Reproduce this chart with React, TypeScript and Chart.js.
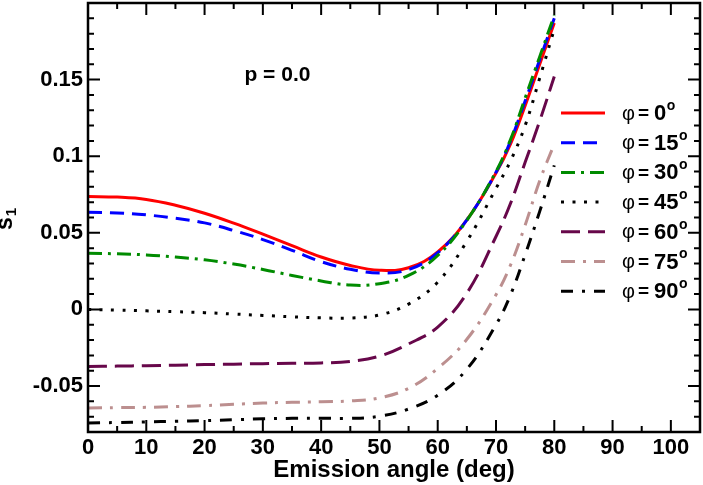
import { useEffect, useRef } from 'react';
import { Chart, registerables, type ChartConfiguration, type Plugin } from 'chart.js';

Chart.register(...registerables);

// Emission angle (deg), sampled a bit denser near the steep rise
const angles = [0, 5, 10, 15, 20, 25, 30, 35, 40, 45, 50, 55, 60, 65, 70, 72.5, 75, 77.5, 80];

const phi0 = [0.0737, 0.0733, 0.0718, 0.068, 0.0628, 0.0563, 0.0491, 0.0416, 0.0342, 0.0287, 0.0256, 0.0272, 0.0375, 0.0585, 0.089, 0.108, 0.133, 0.16, 0.187];
const phi15 = [0.0634, 0.063, 0.0617, 0.0595, 0.0565, 0.0515, 0.0456, 0.0386, 0.0312, 0.0262, 0.0238, 0.026, 0.037, 0.0585, 0.0895, 0.11, 0.136, 0.163, 0.19];
const phi30 = [0.0367, 0.0363, 0.0356, 0.0342, 0.0324, 0.0296, 0.0261, 0.0222, 0.0186, 0.0159, 0.0168, 0.0222, 0.0352, 0.0582, 0.09, 0.111, 0.138, 0.165, 0.192];
const phi45 = [0.0, -0.0004, -0.0009, -0.0015, -0.0021, -0.003, -0.0039, -0.0048, -0.0055, -0.0056, -0.0036, 0.0035, 0.0178, 0.0445, 0.079, 0.097, 0.12, 0.151, 0.183];
const phi60 = [-0.0372, -0.037, -0.0367, -0.0364, -0.036, -0.0357, -0.0354, -0.0352, -0.0349, -0.0339, -0.0305, -0.0225, -0.0115, 0.0106, 0.0476, 0.0693, 0.096, 0.123, 0.152];
const phi75 = [-0.0643, -0.0641, -0.0639, -0.0634, -0.0628, -0.0619, -0.0611, -0.0606, -0.0603, -0.0597, -0.0577, -0.0515, -0.0385, -0.0195, 0.0096, 0.029, 0.055, 0.084, 0.108];
const phi90 = [-0.0741, -0.0738, -0.0734, -0.073, -0.0726, -0.072, -0.0714, -0.0711, -0.071, -0.0711, -0.0697, -0.065, -0.056, -0.039, -0.01, 0.0096, 0.0357, 0.064, 0.094];

const seriesLabels = ['0', '15', '30', '45', '60', '75', '90'];
const seriesValues = [phi0, phi15, phi30, phi45, phi60, phi75, phi90];
const seriesColors = ['#ff0000', '#0000ff', '#008b00', '#000000', '#67074a', '#bc8f8f', '#000000'];
const seriesDashes: number[][] = [[], [14, 8], [14, 6, 3, 6], [3, 8.5], [19, 8], [14, 8, 3, 8], [12, 9, 3, 9]];

const X_MIN = 0, X_MAX = 105, X_MAJOR = 10, X_MINOR = 5;
const Y_MIN = -0.08, Y_MAX = 0.2, Y_MAJOR = 0.05, Y_MINOR = 0.01;

const FONT = '"Liberation Sans", Arial, Helvetica, sans-serif';

/** Inward ticks on all four sides plus the frame, like xmgrace draws them. */
const framePlugin: Plugin<'line'> = {
  id: 'frame',
  afterDatasetsDraw(chart) {
    const { ctx, chartArea: { left, right, top, bottom }, scales: { x, y } } = chart;
    ctx.save();
    ctx.strokeStyle = '#000';
    ctx.lineWidth = 2;
    ctx.beginPath();
    for (let i = 0; X_MIN + i * X_MINOR <= X_MAX + 1e-9; i++) {
      const v = X_MIN + i * X_MINOR;
      const px = x.getPixelForValue(v);
      const len = Math.abs(v / X_MAJOR - Math.round(v / X_MAJOR)) < 1e-6 ? 12 : 6;
      ctx.moveTo(px, bottom); ctx.lineTo(px, bottom - len);
      ctx.moveTo(px, top); ctx.lineTo(px, top + len);
    }
    for (let i = 0; Y_MIN + i * Y_MINOR <= Y_MAX + 1e-9; i++) {
      const v = Y_MIN + i * Y_MINOR;
      const py = y.getPixelForValue(v);
      const len = Math.abs(v / Y_MAJOR - Math.round(v / Y_MAJOR)) < 1e-6 ? 12 : 6;
      ctx.moveTo(left, py); ctx.lineTo(left + len, py);
      ctx.moveTo(right, py); ctx.lineTo(right - len, py);
    }
    ctx.stroke();
    ctx.lineWidth = 2.5;
    ctx.strokeRect(left, top, right - left, bottom - top);
    ctx.restore();
  },
};

/** Legend inside the plot, y-axis title with subscript, and the p annotation. */
const textPlugin: Plugin<'line'> = {
  id: 'texts',
  afterDraw(chart) {
    const { ctx, chartArea: { right, top }, scales: { x, y } } = chart;
    ctx.save();
    ctx.fillStyle = '#000';

    // annotation
    ctx.font = `bold 21px ${FONT}`;
    ctx.textAlign = 'center';
    ctx.textBaseline = 'middle';
    ctx.fillText('p = 0.0', x.getPixelForValue(32.5), y.getPixelForValue(0.153));

    // y title: s with subscript 1, rotated
    ctx.save();
    ctx.translate(12, 223);
    ctx.rotate(-Math.PI / 2);
    ctx.textAlign = 'left';
    ctx.textBaseline = 'alphabetic';
    ctx.font = `bold 23px ${FONT}`;
    const sw = ctx.measureText('s').width;
    ctx.fillText('s', -7, 0);
    ctx.font = `bold 15px ${FONT}`;
    ctx.fillText('1', -7 + sw + 1, 4);
    ctx.restore();

    // legend
    const lx0 = right - 139, lx1 = right - 95, tx = right - 78;
    chart.data.datasets.forEach((ds, i) => {
      const ly = top + 110 + i * 29.7;
      ctx.save();
      ctx.strokeStyle = ds.borderColor as string;
      ctx.lineWidth = 3;
      ctx.setLineDash((ds as any).borderDash ?? []);
      ctx.beginPath();
      ctx.moveTo(lx0, ly);
      ctx.lineTo(lx1, ly);
      ctx.stroke();
      ctx.restore();

      ctx.textAlign = 'left';
      ctx.textBaseline = 'middle';
      ctx.font = `20px ${FONT}`;
      ctx.fillText('\u03C6', tx, ly + 1);
      ctx.font = `bold 19px ${FONT}`;
      ctx.fillText('=', tx + 16, ly + 1);
      ctx.font = `bold 22px ${FONT}`;
      const vx = tx + 32;
      ctx.fillText(seriesLabels[i], vx, ly + 1);
      const cx = vx + ctx.measureText(seriesLabels[i]).width;
      ctx.font = `bold 14px ${FONT}`;
      ctx.fillText('o', cx + 0.5, ly - 7);
    });
    ctx.restore();
  },
};

export default function App() {
  const canvasRef = useRef<HTMLCanvasElement>(null);
  const chartRef = useRef<Chart | null>(null);

  useEffect(() => {
    document.body.style.margin = '0';
    if (!canvasRef.current) return;

    const datasets = seriesValues.map((vals, i) => ({
      label: `\u03C6 = ${seriesLabels[i]}\u00B0`,
      data: vals.map((v, j) => ({ x: angles[j], y: v })),
      borderColor: seriesColors[i],
      backgroundColor: seriesColors[i],
      borderWidth: 3,
      borderDash: seriesDashes[i],
      pointRadius: 0,
      tension: 0.4,
      fill: false,
      order: seriesValues.length - 1 - i, // later curves on top
    }));

    const tickFont = { family: FONT, size: 22, weight: 'bold' as const };

    const config: ChartConfiguration<'line'> = {
      type: 'line',
      data: { datasets },
      options: {
        responsive: true,
        maintainAspectRatio: false,
        animation: false,
        layout: { padding: { left: 0, top: 3, right: 3, bottom: 0 } },
        plugins: {
          legend: { display: false },
          tooltip: { enabled: false },
        },
        scales: {
          x: {
            type: 'linear',
            min: X_MIN,
            max: X_MAX,
            grid: { display: false, drawTicks: false },
            border: { display: false },
            ticks: {
              stepSize: X_MAJOR,
              includeBounds: false,
              color: '#000',
              font: tickFont,
              padding: 3,
              maxRotation: 0,
              callback: (v) => String(v),
            },
            title: {
              display: true,
              text: 'Emission angle (deg)',
              color: '#000',
              font: { family: FONT, size: 24, weight: 'bold' },
              padding: { top: 0, bottom: 0 },
            },
            afterFit: (scale) => {
              scale.height = 53;
              scale.paddingLeft = 0;
              scale.paddingRight = 0;
            },
          },
          y: {
            type: 'linear',
            min: Y_MIN,
            max: Y_MAX,
            grid: { display: false, drawTicks: false },
            border: { display: false },
            ticks: {
              stepSize: Y_MAJOR,
              includeBounds: false,
              color: '#000',
              font: tickFont,
              padding: 5,
              callback: (v) => String(Math.round(Number(v) * 100) / 100),
            },
            // the top (0.2) tick carries no label in the reference
            afterBuildTicks: (scale) => {
              scale.ticks = scale.ticks.filter((t) => t.value < Y_MAX - 1e-9);
            },
            afterFit: (scale) => {
              scale.width = 88;
              scale.paddingTop = 0;
              scale.paddingBottom = 0;
            },
          },
        },
      },
      plugins: [framePlugin, textPlugin],
    };

    chartRef.current = new Chart(canvasRef.current, config);
    return () => { chartRef.current?.destroy(); chartRef.current = null; };
  }, []);

  return (
    <div style={{ position: 'relative', width: 703, height: 485 }}>
      <canvas ref={canvasRef} aria-label="s1 versus emission angle" role="img" />
    </div>
  );
}
